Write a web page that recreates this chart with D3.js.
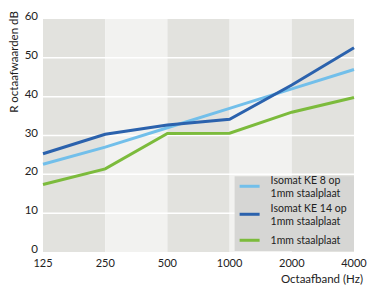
<!DOCTYPE html>
<html>
<head>
<meta charset="utf-8">
<script src="https://cdn.jsdelivr.net/npm/d3@7"></script>
<style>
  body { margin: 0; background: #fff; }
  text { font-family: Lato, "Open Sans", sans-serif; fill: #222; }
</style>
</head>
<body>
<div id="chart"></div>
<script>
//// DATA ////
var bands = ["125", "250", "500", "1000", "2000", "4000"];
var yTicks = [0, 10, 20, 30, 40, 50, 60];
var ke8 = [22.6, 27, 32, 37, 42, 47];
var ke14 = [25.3, 30.3, 32.7, 34.2, 43, 52.6];
var plaat = [17.4, 21.4, 30.5, 30.6, 36, 39.8];
var seriesNames = ["Isomat KE 8 op|1mm staalplaat", "Isomat KE 14 op|1mm staalplaat", "1mm staalplaat"];
var seriesColors = ["#72bfea", "#2b62ad", "#7cbb3c"];

//// SET UP ////
var svgWidth = 367;
var svgHeight = 285;
var margin = { top: 19, right: 13, bottom: 33, left: 43 };
var width = svgWidth - margin.left - margin.right;
var height = svgHeight - margin.top - margin.bottom;

var svg = d3.select("#chart")
  .append("svg")
  .attr("width", svgWidth)
  .attr("height", svgHeight);

var chartGroup = svg.append("g")
  .attr("transform", `translate(${margin.left}, ${margin.top})`);

var xScale = d3.scalePoint()
  .domain(bands)
  .range([0, width]);

var yScale = d3.scaleLinear()
  .domain([0, 60])
  .range([height, 0]);

// alternating background bands
chartGroup.selectAll("rect.band")
  .data(bands.slice(0, -1))
  .enter()
  .append("rect")
  .attr("x", d => xScale(d))
  .attr("y", 0)
  .attr("width", xScale.step())
  .attr("height", height)
  .attr("fill", (d, i) => i % 2 === 0 ? "#e2e2de" : "#f2f2f0");

// white gridlines
chartGroup.selectAll("line.grid")
  .data(yTicks.filter(d => d > 0 && d < 60))
  .enter()
  .append("line")
  .attr("x1", 0)
  .attr("x2", width)
  .attr("y1", d => yScale(d))
  .attr("y2", d => yScale(d))
  .attr("stroke", "#fff")
  .attr("stroke-width", 1.5);

// y tick labels
chartGroup.selectAll("text.ytick")
  .data(yTicks)
  .enter()
  .append("text")
  .attr("x", -5)
  .attr("y", d => yScale(d))
  .attr("dy", "0.1em")
  .attr("text-anchor", "end")
  .style("font-size", "11.5px")
  .text(d => d);

// x tick labels
chartGroup.selectAll("text.xtick")
  .data(bands)
  .enter()
  .append("text")
  .attr("x", d => xScale(d))
  .attr("y", height + 15)
  .attr("text-anchor", "middle")
  .style("font-size", "11px")
  .text(d => d);

// axis titles
chartGroup.append("text")
  .attr("x", width + 9)
  .attr("y", height + 31)
  .attr("text-anchor", "end")
  .style("font-size", "11.5px")
  .text("Octaafband (Hz)");

chartGroup.append("text")
  .attr("transform", "rotate(-90)")
  .attr("x", -43)
  .attr("y", -25)
  .attr("text-anchor", "middle")
  .style("font-size", "11.5px")
  .text("R octaafwaarden dB");

// lines
var line = d3.line()
  .x((d, i) => xScale(bands[i]))
  .y(d => yScale(d));

[ke8, ke14, plaat].forEach(function(values, i) {
  chartGroup.append("path")
    .datum(values)
    .attr("d", line)
    .attr("fill", "none")
    .attr("stroke", seriesColors[i])
    .attr("stroke-width", 3);
});

// legend
var legend = chartGroup.append("g")
  .attr("transform", `translate(${xScale("1000") + 5}, ${yScale(19.5)})`);

legend.append("rect")
  .attr("width", width - xScale("1000") - 5)
  .attr("height", yScale(0) - yScale(19.5) - 1)
  .attr("fill", "#d6d6d4");

var legendY = [10, 38, 64];
seriesNames.forEach(function(name, i) {
  legend.append("line")
    .attr("x1", 5)
    .attr("x2", 25)
    .attr("y1", legendY[i])
    .attr("y2", legendY[i])
    .attr("stroke", seriesColors[i])
    .attr("stroke-width", 3);
  var parts = name.split("|");
  parts.forEach(function(p, j) {
    legend.append("text")
      .attr("x", 36)
      .attr("y", legendY[i] - (parts.length - 1) * 6.25 + 4 + j * 12.5)
      .style("font-size", "10.5px")
      .text(p);
  });
});
</script>
</body>
</html>
